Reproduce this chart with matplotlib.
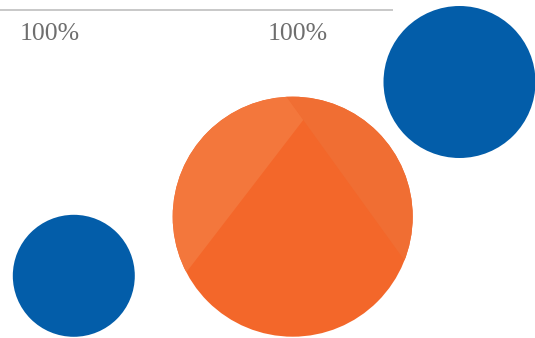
import numpy as np
import matplotlib.pyplot as plt
from matplotlib.patches import Circle, Polygon

# bubble data (pixel-like data units, y down)
bubble_x = [73.8, 292.7, 459.5]
bubble_y = [275.8, 216.7, 82.0]
bubble_r = [61.0, 120.0, 76.0]
bubble_colors = ["#035DA9", "#F3672A", "#035DA9"]

labels = ["100%", "100%"]
label_x = [49.5, 297.5]
label_y = [40.0, 40.0]

fig = plt.figure(figsize=(5.35, 3.38), dpi=100)
ax = fig.add_axes([0, 0, 1, 1])
ax.set_xlim(0, 535)
ax.set_ylim(338, 0)
ax.set_aspect("equal")
ax.axis("off")

# gray gridline at top
ax.plot([0, 393], [10, 10], color="#BFBFBF", lw=1.2, solid_capstyle="butt")

for x, y, r, c in zip(bubble_x, bubble_y, bubble_r, bubble_colors):
    circ = Circle((x, y), r, facecolor=c, edgecolor="none")
    ax.add_patch(circ)

# facet shading on the big orange bubble
cx, cy, r = bubble_x[1], bubble_y[1], bubble_r[1]
apex = np.array([cx + 0.088 * r, cy - 0.806 * r])
d_tr = np.array([0.585, 0.811])      # line through apex (top-left to bottom-right)
d_l = np.array([-0.609, 0.793])      # line from apex to lower left
far = 4 * r
clip = Circle((cx, cy), r, transform=ax.transData)

# right sliver (right of the straight line)
p_top = apex - d_tr * far
p_bot = apex + d_tr * far
right = Polygon([p_top, p_bot, p_bot + np.array([far, 0]), p_top + np.array([far, 0])],
                closed=True, facecolor="#F06E33", edgecolor="none")
ax.add_patch(right)
right.set_clip_path(clip)

# upper-left facet (left of straight line, above lower-left line)
p_l = apex + d_l * far
left = Polygon([apex, p_top, p_top + np.array([-far, 0]), p_l + np.array([-far, 0]), p_l],
               closed=True, facecolor="#F3773C", edgecolor="none")
ax.add_patch(left)
left.set_clip_path(clip)

for t, x, y in zip(labels, label_x, label_y):
    ax.text(x, y, t, ha="center", va="baseline", fontsize=18.5,
            family="Liberation Serif", color="#6E6E6E")

fig.savefig("out.png", dpi=100)
